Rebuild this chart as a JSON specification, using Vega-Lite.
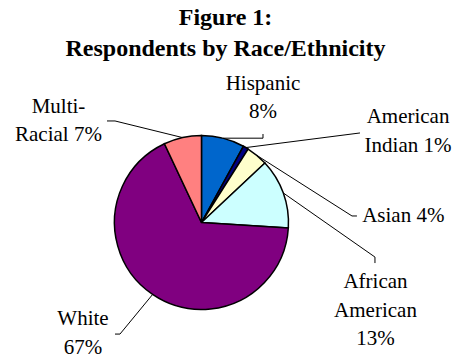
{
  "$schema": "https://vega.github.io/schema/vega-lite/v6.json",
  "width": 457,
  "height": 293,
  "autosize": {"type": "none"},
  "padding": {"top": 65, "left": 0, "right": 0, "bottom": 0},
  "background": "white",
  "view": {"stroke": null},
  "title": {
    "text": ["Figure 1:", "Respondents by Race/Ethnicity"],
    "font": "Liberation Serif",
    "fontSize": 24,
    "fontWeight": "bold",
    "lineHeight": 31,
    "color": "black",
    "anchor": "middle",
    "dx": -3
  },
  "datasets": {
    "slices": [
      {"group": "Hispanic", "pct": 8, "order": 1},
      {"group": "American Indian", "pct": 1, "order": 2},
      {"group": "Asian", "pct": 4, "order": 3},
      {"group": "African American", "pct": 13, "order": 4},
      {"group": "White", "pct": 67, "order": 5},
      {"group": "Multi-Racial", "pct": 7, "order": 6}
    ],
    "labels": [
      {"group": "Hispanic", "lines": ["Hispanic", "8%"], "lx": 0.707, "ly": 1.523},
      {"group": "American Indian", "lines": ["American", "Indian 1%"], "lx": 2.374, "ly": 1.14},
      {"group": "Asian", "lines": ["Asian 4%"], "lx": 2.32, "ly": 0.009},
      {"group": "African American", "lines": ["African", "American", "13%"], "lx": 2.0, "ly": -0.753},
      {"group": "White", "lines": ["White", "67%"], "lx": -1.362, "ly": -1.178},
      {"group": "Multi-Racial", "lines": ["Multi-", "Racial 7%"], "lx": -1.644, "ly": 1.259}
    ],
    "leaders": [
      {"group": "Hispanic", "i": 1, "lx": 0.249, "ly": 0.969},
      {"group": "Hispanic", "i": 2, "lx": 0.707, "ly": 0.969},
      {"group": "Hispanic", "i": 3, "lx": 0.707, "ly": 1.017},
      {"group": "American Indian", "i": 1, "lx": 0.509, "ly": 0.861},
      {"group": "American Indian", "i": 2, "lx": 1.822, "ly": 1.029},
      {"group": "Asian", "i": 1, "lx": 0.637, "ly": 0.771},
      {"group": "Asian", "i": 2, "lx": 1.73, "ly": 0.075},
      {"group": "Asian", "i": 3, "lx": 1.787, "ly": 0.075},
      {"group": "African American", "i": 1, "lx": 0.941, "ly": 0.339},
      {"group": "African American", "i": 2, "lx": 1.994, "ly": -0.397},
      {"group": "African American", "i": 3, "lx": 1.994, "ly": -0.466},
      {"group": "White", "i": 1, "lx": -0.562, "ly": -0.827},
      {"group": "White", "i": 2, "lx": -0.937, "ly": -1.282},
      {"group": "White", "i": 3, "lx": -0.994, "ly": -1.282},
      {"group": "Multi-Racial", "i": 1, "lx": -0.218, "ly": 0.976},
      {"group": "Multi-Racial", "i": 2, "lx": -0.994, "ly": 1.167},
      {"group": "Multi-Racial", "i": 3, "lx": -1.086, "ly": 1.167}
    ]
  },
  "layer": [
    {
      "data": {"name": "slices"},
      "mark": {"type": "arc", "outerRadius": 87, "stroke": "black", "strokeWidth": 1.5},
      "encoding": {
        "theta": {"field": "pct", "type": "quantitative", "stack": true},
        "order": {"field": "order", "type": "quantitative"},
        "color": {
          "field": "group",
          "type": "nominal",
          "scale": {
            "domain": ["Hispanic", "American Indian", "Asian", "African American", "White", "Multi-Racial"],
            "range": ["#0066CC", "#000080", "#FFFFCC", "#CCFFFF", "#800080", "#FF8080"]
          },
          "legend": null
        },
        "x": {"datum": 0, "type": "quantitative", "scale": {"domain": [-2.316, 2.937], "nice": false, "zero": false}, "axis": null},
        "y": {"datum": 0, "type": "quantitative", "scale": {"domain": [-1.557, 1.81], "nice": false, "zero": false}, "axis": null}
      }
    },
    {
      "data": {"name": "leaders"},
      "mark": {"type": "line", "color": "black", "strokeWidth": 1},
      "encoding": {
        "x": {"field": "lx", "type": "quantitative", "scale": {"domain": [-2.316, 2.937], "nice": false, "zero": false}, "axis": null},
        "y": {"field": "ly", "type": "quantitative", "scale": {"domain": [-1.557, 1.81], "nice": false, "zero": false}, "axis": null},
        "detail": {"field": "group", "type": "nominal"},
        "order": {"field": "i", "type": "quantitative"}
      }
    },
    {
      "data": {"name": "labels"},
      "mark": {"type": "text", "font": "Liberation Serif", "fontSize": 21, "lineHeight": 28.5, "align": "center", "baseline": "alphabetic", "color": "black"},
      "encoding": {
        "x": {"field": "lx", "type": "quantitative", "scale": {"domain": [-2.316, 2.937], "nice": false, "zero": false}, "axis": null},
        "y": {"field": "ly", "type": "quantitative", "scale": {"domain": [-1.557, 1.81], "nice": false, "zero": false}, "axis": null},
        "text": {"field": "lines"}
      }
    }
  ]
}
